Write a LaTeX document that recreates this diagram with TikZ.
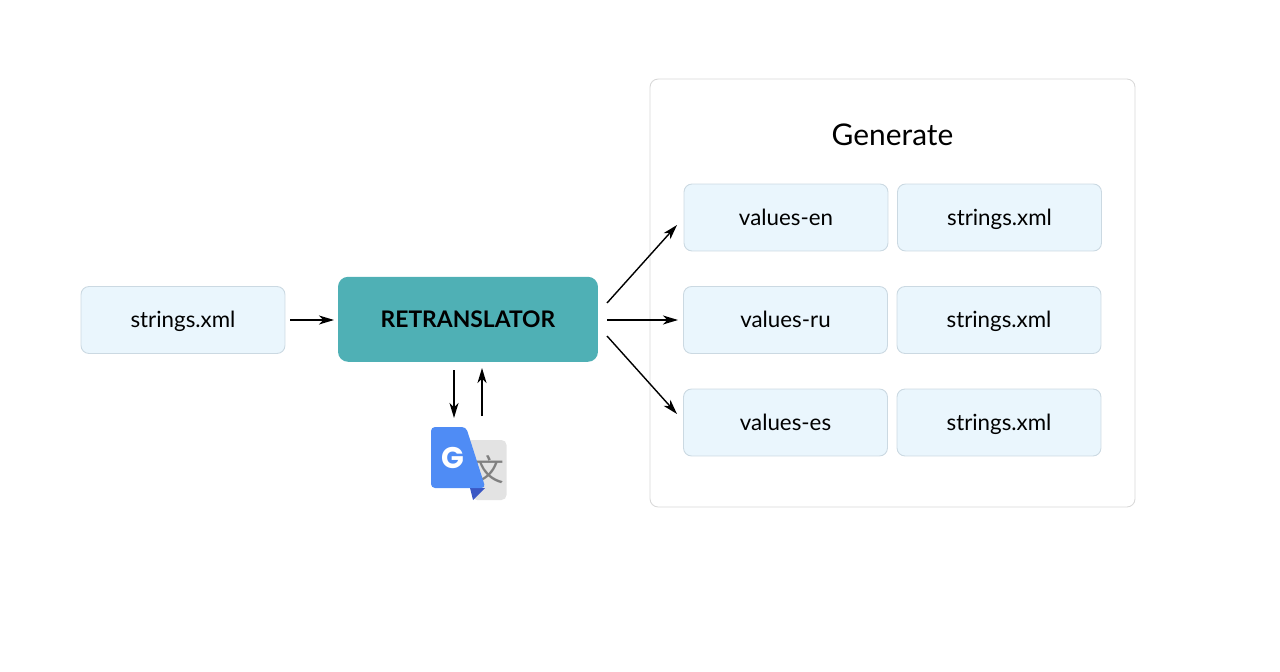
\documentclass[tikz,border=0pt]{standalone}
\usepackage{fontspec}
\setmainfont{Lato}
\newfontfamily\cjkfont{Noto Sans CJK SC}
\newfontfamily\logofont{Poppins}
\usetikzlibrary{arrows.meta}
\definecolor{boxfill}{HTML}{EAF6FD}
\definecolor{boxline}{HTML}{CBD9E2}
\definecolor{framegray}{HTML}{D8D8D8}
\definecolor{tealfill}{HTML}{4FB0B5}
\definecolor{gblue}{HTML}{4F8CF5}
\definecolor{gdark}{HTML}{3A57C4}
\definecolor{ggray}{HTML}{E3E3E3}
\definecolor{gglyph}{HTML}{808080}
\tikzset{
  valbox/.style={draw=boxline,fill=boxfill,rounded corners=0.16cm,line width=0.5pt,
    minimum width=4.08cm,minimum height=1.34cm,inner sep=0pt,text height=10pt,text depth=1pt,
    font=\fontsize{12.7}{14}\selectfont},
  link/.style={-{Stealth[length=0.3cm,width=0.18cm,inset=0.09cm]},line width=0.8pt}
}
\begin{document}
\begin{tikzpicture}[x=0.02cm,y=-0.02cm]
  \useasboundingbox (0,0) rectangle (1280,672);
  % frame
  \node (frame) [draw=framegray,rounded corners=0.16cm,line width=0.5pt,minimum width=9.7cm,minimum height=8.56cm,inner sep=0pt] at (892.5,293) {};
  \node (title) [font=\fontsize{17}{20}\selectfont] at (892.5,135) {Generate};
  % boxes
  \node (src) [valbox] at (183,320) {strings.xml};
  \node (retr) [fill=tealfill,rounded corners=0.2cm,minimum width=5.2cm,minimum height=1.7cm,inner sep=0pt,font=\fontsize{13}{14}\selectfont\bfseries] at (468,319.3) {RETRANSLATOR};
  \node (valen) [valbox] at (786,217.5) {values-en};
  \node (stren) [valbox] at (999.5,217.5) {strings.xml};
  \node (valru) [valbox] at (785.5,320) {values-ru};
  \node (strru) [valbox] at (999,320) {strings.xml};
  \node (vales) [valbox] at (785.5,422.5) {values-es};
  \node (stres) [valbox] at (999,422.5) {strings.xml};
  % translate logo
  \fill [ggray,rounded corners=0.1cm] (472,440) rectangle (506.5,500);
  \fill [ggray] (460,440) rectangle (480,480);
  \node (glyph) [text=gglyph,inner sep=0pt,font=\cjkfont\fontsize{17.5}{20}\selectfont] at (488.5,469.5) {文};
  \fill [gdark] (470,488) -- (485,488) -- (473,500) -- cycle;
  \fill [gblue,rounded corners=0.08cm] (431,427) -- (466,427) -- (485.5,488) -- (431,488) -- cycle;
  \node (gletter) [text=white,inner sep=0pt,font=\logofont\bfseries\fontsize{17}{20}\selectfont] at (453,457.5) {G};
  % arrows
  \coordinate (fanen) at (607,303);
  \coordinate (fanru) at (607,320);
  \coordinate (fanes) at (607,336);
  \coordinate (toen) at (677,225);
  \coordinate (toru) at (678,320);
  \coordinate (toes) at (677,414);
  \coordinate (down) at (454,370);
  \coordinate (downend) at (454,418);
  \coordinate (upstart) at (482,416);
  \coordinate (up) at (482,368);
  \coordinate (srcout) at (290,320);
  \coordinate (retrin) at (334,320);
  \draw [link] (srcout) -- (retrin);
  \draw [link] (fanen) -- (toen);
  \draw [link] (fanru) -- (toru);
  \draw [link] (fanes) -- (toes);
  \draw [link] (down) -- (downend);
  \draw [link] (upstart) -- (up);
\end{tikzpicture}
\end{document}
